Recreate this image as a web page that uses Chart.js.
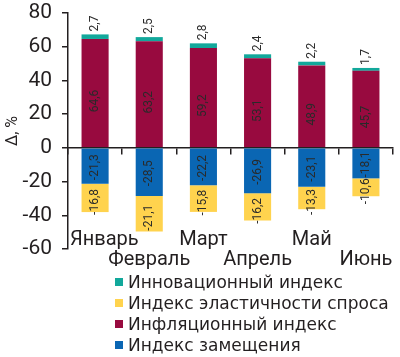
<!DOCTYPE html>
<html><head><meta charset="utf-8">
<script src="https://cdn.jsdelivr.net/npm/chart.js@4.4.0/dist/chart.umd.min.js"></script>
<style>html,body{margin:0;padding:0;background:#fff}canvas{display:block}</style>
</head><body>
<canvas id="c" width="400" height="357"></canvas>
<script>
const categories = ['Январь', 'Февраль', 'Март', 'Апрель', 'Май', 'Июнь'];
const innovationIndex = [2.7, 2.5, 2.8, 2.4, 2.2, 1.7];
const inflationIndex = [64.6, 63.2, 59.2, 53.1, 48.9, 45.7];
const substitutionIndex = [-21.3, -28.5, -22.2, -26.9, -23.1, -18.1];
const elasticityIndex = [-16.8, -21.1, -15.8, -16.2, -13.3, -10.6];
const yTickValues = [-60, -40, -20, 0, 20, 40, 60, 80];
const yTitle = 'Δ, %';

const TEXT = '#231f20';
const COLORS = { innovation: '#12a89b', elasticity: '#ffd34e', inflation: '#980a3f', substitution: '#0a66b3' };

const datasets = [
  { key: 'inflation', label: 'Инфляционный индекс', data: inflationIndex, backgroundColor: COLORS.inflation, labelMode: 'center', labelShift: 8 },
  { key: 'innovation', label: 'Инновационный индекс', data: innovationIndex, backgroundColor: COLORS.innovation, labelMode: 'above', labelShift: 0 },
  { key: 'substitution', label: 'Индекс замещения', data: substitutionIndex, backgroundColor: COLORS.substitution, labelMode: 'center', labelShift: 1 },
  { key: 'elasticity', label: 'Индекс эластичности спроса', data: elasticityIndex, backgroundColor: COLORS.elasticity, labelMode: 'center', labelShift: 4 }
];
const legendOrder = ['innovation', 'elasticity', 'inflation', 'substitution'];

const fmt = v => v.toFixed(1).replace('.', ',');

const valueLabels = {
  id: 'valueLabels',
  afterDatasetsDraw(chart) {
    const ctx = chart.ctx;
    ctx.save();
    ctx.font = '12px Roboto';
    ctx.fillStyle = '#2a2a2a';
    chart.data.datasets.forEach((ds, di) => {
      const meta = chart.getDatasetMeta(di);
      meta.data.forEach((bar, i) => {
        const v = ds.data[i];
        ctx.save();
        if (ds.labelMode === 'above') {
          ctx.translate(bar.x, Math.min(bar.y, bar.base) - 3);
          ctx.rotate(-Math.PI / 2);
          ctx.textAlign = 'left';
        } else {
          ctx.translate(bar.x, (bar.y + bar.base) / 2 + ds.labelShift);
          ctx.rotate(-Math.PI / 2);
          ctx.textAlign = 'center';
        }
        ctx.textBaseline = 'middle';
        ctx.fillText(fmt(v), 0, 0);
        ctx.restore();
      });
    });
    ctx.restore();
  }
};

const categoryLabels = {
  id: 'categoryLabels',
  afterDraw(chart) {
    const ctx = chart.ctx, xs = chart.scales.x, area = chart.chartArea;
    ctx.save();
    ctx.font = '20px Roboto';
    ctx.fillStyle = TEXT;
    ctx.textAlign = 'center';
    ctx.textBaseline = 'alphabetic';
    categories.forEach((c, i) => {
      const w = ctx.measureText(c).width;
      const cx = Math.max(xs.getPixelForValue(i), area.left + w / 2 + 2);
      const by = area.bottom + (i % 2 === 0 ? -4 : 16);
      ctx.fillText(c, cx, by);
    });
    ctx.restore();
  }
};

const customLegend = {
  id: 'customLegend',
  afterDraw(chart) {
    const ctx = chart.ctx, area = chart.chartArea;
    ctx.save();
    ctx.font = '17px "DejaVu Sans"';
    ctx.textAlign = 'left';
    ctx.textBaseline = 'alphabetic';
    legendOrder.forEach((k, n) => {
      const ds = chart.data.datasets.find(d => d.key === k);
      const cy = area.bottom + 33 + n * 21;
      ctx.fillStyle = ds.backgroundColor;
      ctx.fillRect(115, cy - 4, 8, 8);
      ctx.fillStyle = TEXT;
      ctx.fillText(ds.label, 128, cy + 6);
    });
    ctx.restore();
  }
};

new Chart(document.getElementById('c'), {
  type: 'bar',
  data: {
    labels: categories,
    datasets: datasets.map(d => Object.assign({ borderWidth: 0, categoryPercentage: 1, barPercentage: 0.5, stack: 's' }, d))
  },
  options: {
    responsive: false,
    animation: false,
    layout: { padding: { top: 13, right: 7, bottom: 108, left: 0 } },
    plugins: { legend: { display: false }, tooltip: { enabled: false } },
    scales: {
      x: {
        type: 'category',
        stacked: true,
        position: { y: 0 },
        offset: true,
        grid: { offset: true, drawOnChartArea: false, drawTicks: true, tickLength: 6, color: TEXT, lineWidth: 1.5 },
        border: { display: true, color: TEXT, width: 1.5 },
        ticks: { display: false }
      },
      y: {
        stacked: true,
        min: -60,
        max: 80,
        afterBuildTicks: s => { s.ticks = yTickValues.map(v => ({ value: v })); },
        afterFit: s => { s.width = 68; s.paddingTop = 0; s.paddingBottom = 0; },
        grid: { drawOnChartArea: false, drawTicks: true, tickLength: 6, color: TEXT, lineWidth: 1.5 },
        border: { display: true, color: TEXT, width: 1.5 },
        ticks: { color: TEXT, font: { family: 'Roboto', size: 21 }, padding: 10, callback: v => String(v) },
        title: { display: true, text: yTitle, color: TEXT, font: { family: 'Roboto', size: 16 }, padding: { top: 3, bottom: 0 } }
      }
    }
  },
  plugins: [valueLabels, categoryLabels, customLegend]
});
</script>
</body></html>
